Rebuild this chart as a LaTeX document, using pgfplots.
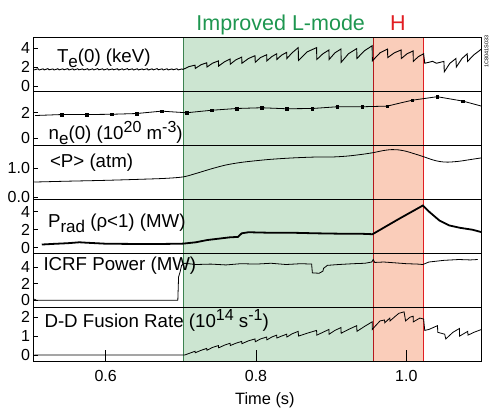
\documentclass[border=0pt]{standalone}
\usepackage{fontspec}
\setmainfont{Liberation Sans}
\usepackage{pgfplots}
\pgfplotsset{compat=1.18}
\definecolor{lgreen}{RGB}{204,229,209}
\definecolor{lred}{RGB}{250,205,186}
\definecolor{tgreen}{RGB}{30,150,80}
\definecolor{tred}{RGB}{225,30,35}
\definecolor{egreen}{RGB}{60,130,80}
\newcommand\lab{\fontsize{18.7}{20}\selectfont}
\newcommand\sub[1]{\raisebox{-5pt}{\fontsize{17}{17}\selectfont #1}}
\newcommand\sps[1]{\raisebox{7.5pt}{\fontsize{16}{16}\selectfont #1}}
\pgfplotsset{
  panel/.style={
    width=448pt, height=54pt, scale only axis,
    xmin=0.504, xmax=1.1,
    axis line style={line width=1pt},
    xtick=\empty,
    ytick pos=left,
    tick align=inside,
    major tick length=5pt,
    tick style={black, line width=0.6pt},
    yticklabel style={font=\fontsize{16}{17}\selectfont, inner ysep=0.5pt},
    /pgf/number format/assume math mode=true,
    axis on top,
    clip mode=individual,
  },
}
\newcommand\bands{%
  \addplot[fill=lgreen, draw=none, forget plot] coordinates {(0.703,-100) (0.703,100) (0.9556,100) (0.9556,-100)} -- cycle;
  \addplot[fill=lred, draw=none, forget plot] coordinates {(0.9556,-100) (0.9556,100) (1.023,100) (1.023,-100)} -- cycle;
  \addplot[egreen, line width=0.5pt, forget plot] coordinates {(0.703,-100) (0.703,100)};
  \addplot[tred!80!black, line width=0.6pt, forget plot] coordinates {(0.9556,-100) (0.9556,100)};
  \addplot[tred, line width=0.6pt, forget plot] coordinates {(1.023,-100) (1.023,100)};
}
\begin{document}
\begin{tikzpicture}
% ---------- Te(0)
\begin{axis}[panel, at={(0,270pt)}, ymin=-0.6, ymax=5.1, ytick={0,2,4}]
\bands
\addplot[black, line width=0.9pt] coordinates {
(0.5050,1.70)(0.5100,1.82)(0.5116,1.69)(0.5166,1.81)(0.5182,1.70)(0.5232,1.83)(0.5248,1.71)(0.5298,1.80)
(0.5314,1.69)(0.5364,1.82)(0.5380,1.70)(0.5430,1.81)(0.5446,1.71)(0.5496,1.83)(0.5512,1.70)(0.5562,1.81)
(0.5578,1.69)(0.5628,1.82)(0.5644,1.71)(0.5694,1.80)(0.5710,1.70)(0.5760,1.82)(0.5776,1.69)(0.5826,1.81)
(0.5842,1.70)(0.5892,1.83)(0.5908,1.71)(0.5958,1.81)(0.5974,1.69)(0.6024,1.82)(0.6040,1.70)(0.6090,1.80)
(0.6106,1.71)(0.6156,1.82)(0.6172,1.69)(0.6222,1.81)(0.6238,1.70)(0.6288,1.83)(0.6304,1.71)(0.6354,1.81)
(0.6370,1.69)(0.6420,1.82)(0.6436,1.70)(0.6486,1.80)(0.6502,1.71)(0.6552,1.82)(0.6568,1.69)(0.6618,1.81)
(0.6634,1.70)(0.6684,1.83)(0.6700,1.71)(0.6750,1.81)(0.6766,1.69)(0.6816,1.82)(0.6832,1.70)(0.6882,1.80)
(0.6898,1.71)(0.6948,1.82)(0.6964,1.70)(0.7014,1.80)
(0.7030,1.75)(0.7110,2.05)(0.7189,2.20)(0.7192,1.85)(0.7270,2.25)(0.7345,2.45)(0.7348,2.00)(0.7420,2.40)
(0.7500,2.65)(0.7503,2.10)(0.7580,2.55)(0.7655,2.85)(0.7658,2.30)(0.7730,2.75)(0.7810,3.05)(0.7813,2.40)
(0.7900,2.90)(0.7987,3.20)(0.7990,2.50)(0.8060,3.00)(0.8142,3.30)(0.8145,2.65)(0.8210,3.10)(0.8275,3.40)
(0.8278,2.80)(0.8340,3.25)(0.8408,3.55)(0.8411,2.90)(0.8480,3.50)(0.8562,4.05)(0.8565,2.70)(0.8680,3.60)
(0.8806,4.05)(0.8809,2.80)(0.8890,3.40)(0.8970,3.80)(0.8973,2.80)(0.9050,3.50)(0.9130,3.90)(0.9133,2.50)
(0.9230,3.40)(0.9340,3.95)(0.9343,2.90)(0.9440,3.70)(0.9545,4.25)(0.9548,2.65)(0.9650,3.50)(0.9750,3.90)
(0.9753,3.00)(0.9840,3.50)(0.9930,3.80)(0.9933,2.90)(1.0010,3.40)(1.0090,3.70)(1.0093,2.60)(1.0160,3.10)
(1.0230,3.40)(1.0245,2.40)(1.0350,2.60)(1.0400,2.40)(1.0500,2.60)(1.0505,1.50)(1.0580,2.40)(1.0660,2.90)
(1.0665,2.00)(1.0740,2.90)(1.0810,3.40)(1.0815,2.60)(1.0900,3.30)(1.1000,3.90)};
\node[anchor=base west, font=\lab] at (rel axis cs:0.0446,0.54) {T\sub{e}(0) (keV)};
\node[anchor=base, font=\fontsize{21.5}{22}\selectfont, text=tgreen, yshift=7.5pt] at (rel axis cs:0.5518,1) {Improved L-mode};
\node[anchor=base, font=\fontsize{21.5}{22}\selectfont, text=tred, yshift=7.5pt] at (rel axis cs:0.8133,1) {H};
\node[rotate=90, font=\fontsize{5.5}{6}\selectfont, yshift=-5pt] at (rel axis cs:1,0.74) {1C8041S033};
\end{axis}
% ---------- ne(0)
\begin{axis}[panel, at={(0,216pt)}, ymin=-0.62, ymax=3.68, ytick={0,2}]
\bands
\addplot[black, line width=0.8pt] coordinates {
(0.506,1.78)(0.5415,1.86)(0.5747,1.86)(0.608,1.88)(0.6411,1.94)(0.6744,2.13)(0.7076,2.0)(0.7408,2.2)
(0.774,2.34)(0.8073,2.4)(0.8405,2.32)(0.875,2.34)(0.9082,2.48)(0.9415,2.48)(0.9747,2.53)(0.992,2.78)(1.008,3.0)
(1.0411,3.28)(1.0752,2.93)(1.1,2.53)};
\addplot[only marks, mark=square*, mark size=1.3pt, black] coordinates {
(0.5415,1.86)(0.5747,1.86)(0.608,1.88)(0.6411,1.94)(0.6744,2.13)(0.7076,2.0)(0.7408,2.2)
(0.774,2.34)(0.8073,2.4)(0.8405,2.32)(0.875,2.34)(0.9082,2.48)(0.9415,2.48)(0.9747,2.53)(1.008,3.0)
(1.0411,3.28)(1.0752,2.93)};
\node[anchor=base west, font=\lab] at (rel axis cs:0.026,0.11) {n\sub{e}(0) (10\sps{20} m\sps{-3})};
\end{axis}
% ---------- <P>
\begin{axis}[panel, at={(0,162pt)}, ymin=-0.1, ymax=1.80, ytick={0,1}, yticklabels={0.0,1.0}]
\bands
\addplot[black, line width=0.8pt, smooth] coordinates {
(0.505,0.52)(0.55,0.55)(0.60,0.58)(0.65,0.62)(0.68,0.65)(0.703,0.70)(0.72,0.82)(0.74,0.98)(0.76,1.12)
(0.78,1.21)(0.80,1.27)(0.82,1.32)(0.85,1.37)(0.88,1.40)(0.90,1.40)(0.92,1.43)(0.94,1.49)(0.955,1.55)
(0.97,1.63)(0.98,1.66)(0.99,1.65)(1.0,1.60)(1.01,1.52)(1.022,1.42)(1.035,1.30)(1.045,1.24)(1.055,1.22)
(1.07,1.25)(1.085,1.31)(1.1,1.37)};
\node[anchor=base west, font=\lab] at (rel axis cs:0.029,0.59) {<P> (atm)};
\end{axis}
% ---------- Prad
\begin{axis}[panel, at={(0,108pt)}, ymin=-0.67, ymax=5.35, ytick={0,2,4}]
\bands
\addplot[black, line width=1.8pt] coordinates {
(0.515,0.35)(0.53,0.42)(0.55,0.50)(0.565,0.60)(0.575,0.55)(0.60,0.44)(0.63,0.42)(0.66,0.40)(0.69,0.43)
(0.703,0.45)(0.72,0.60)(0.735,0.85)(0.75,1.00)(0.765,1.15)(0.776,1.20)(0.781,1.60)(0.79,1.72)(0.82,1.66)
(0.85,1.66)(0.88,1.60)(0.91,1.56)(0.94,1.55)(0.955,1.50)(0.99,3.20)(1.022,4.70)(1.031,3.96)(1.044,3.03)
(1.057,2.48)(1.071,2.22)(1.088,2.00)(1.1,1.73)};
\node[anchor=base west, font=\lab] at (rel axis cs:0.0246,0.49) {P\sub{rad} (ρ<1) (MW)};
\end{axis}
% ---------- ICRF
\begin{axis}[panel, at={(0,54pt)}, ymin=-0.88, ymax=5.6, ytick={0,2,4}]
\bands
\addplot[black, line width=0.8pt] coordinates {
(0.505,0.15)(0.508,0.0)(0.696,0.0)(0.697,2.8)(0.699,3.4)(0.701,4.2)(0.705,4.45)(0.72,4.3)(0.74,4.35)
(0.76,4.25)(0.78,4.4)(0.80,4.35)(0.82,4.45)(0.84,4.3)(0.86,4.4)(0.874,4.35)(0.875,3.3)(0.884,3.25)
(0.889,3.5)(0.890,3.85)(0.895,4.2)(0.91,4.3)(0.93,4.4)(0.945,4.45)(0.954,4.6)(0.956,4.9)(0.958,4.55)
(0.97,4.6)(0.985,4.5)(1.0,4.4)(1.015,4.35)(1.022,4.3)(1.03,4.6)(1.05,4.8)(1.07,4.9)(1.085,4.85)(1.095,4.9)};
\node[anchor=base west, font=\lab] at (rel axis cs:0.0145,0.69) {ICRF Power (MW)};
\end{axis}
% ---------- D-D
\begin{axis}[panel, at={(0,0pt)}, ymin=-0.35, ymax=2.5, ytick={0,1,2},
  xtick={0.6,0.8,1.0}, xticklabels={0.6,0.8,1.0}, xtick pos=bottom,
  xtick style={/pgfplots/major tick length=12pt},
  xticklabel style={font=\fontsize{16}{17}\selectfont, yshift=-5.5pt}]
\bands
\addplot[black, line width=0.8pt] coordinates {
(0.505,0.0)(0.705,0.0)(0.712,0.10)(0.7189,0.20)(0.7192,0.12)(0.727,0.25)(0.7345,0.35)(0.7348,0.25)
(0.742,0.40)(0.750,0.50)(0.7503,0.38)(0.758,0.52)(0.7655,0.62)(0.7658,0.50)(0.773,0.62)(0.781,0.72)
(0.7813,0.60)(0.790,0.75)(0.7987,0.85)(0.799,0.70)(0.806,0.85)(0.8142,0.95)(0.8145,0.80)(0.821,0.95)
(0.8275,1.05)(0.8278,0.90)(0.834,1.00)(0.8408,1.10)(0.8411,0.95)(0.848,1.12)(0.8562,1.25)(0.8565,1.00)
(0.868,1.15)(0.8806,1.30)(0.8809,1.05)(0.889,1.20)(0.897,1.35)(0.8973,1.10)(0.905,1.30)(0.913,1.45)
(0.9133,1.15)(0.923,1.35)(0.934,1.55)(0.9343,1.25)(0.944,1.50)(0.9545,1.75)(0.9548,1.35)(0.958,1.50)
(0.965,1.80)(0.971,1.85)(0.9713,1.70)(0.978,1.95)(0.9783,1.80)(0.984,2.00)(0.990,2.20)(0.997,2.28)
(0.999,1.80)(1.005,2.00)(1.009,2.05)(1.0093,1.75)(1.018,1.95)(1.023,1.90)(1.0245,1.30)(1.030,1.35)
(1.0415,1.55)(1.0418,1.20)(1.051,1.10)(1.0525,0.85)(1.062,1.20)(1.0706,1.40)(1.0709,1.00)(1.0817,1.25)
(1.0820,1.05)(1.090,1.20)(1.1,1.35)};
\node[anchor=base west, font=\lab] at (rel axis cs:0.0167,0.63) {D-D Fusion Rate (10\sps{14} s\sps{-1})};
\node[anchor=base, font=\fontsize{16.4}{17}\selectfont, yshift=-43pt] at (rel axis cs:0.5165,0) {Time (s)};
\end{axis}
\pgfresetboundingbox
\path (-33.5pt,-49.3pt) rectangle (457.5pt,361.7pt);
\end{tikzpicture}
\end{document}
